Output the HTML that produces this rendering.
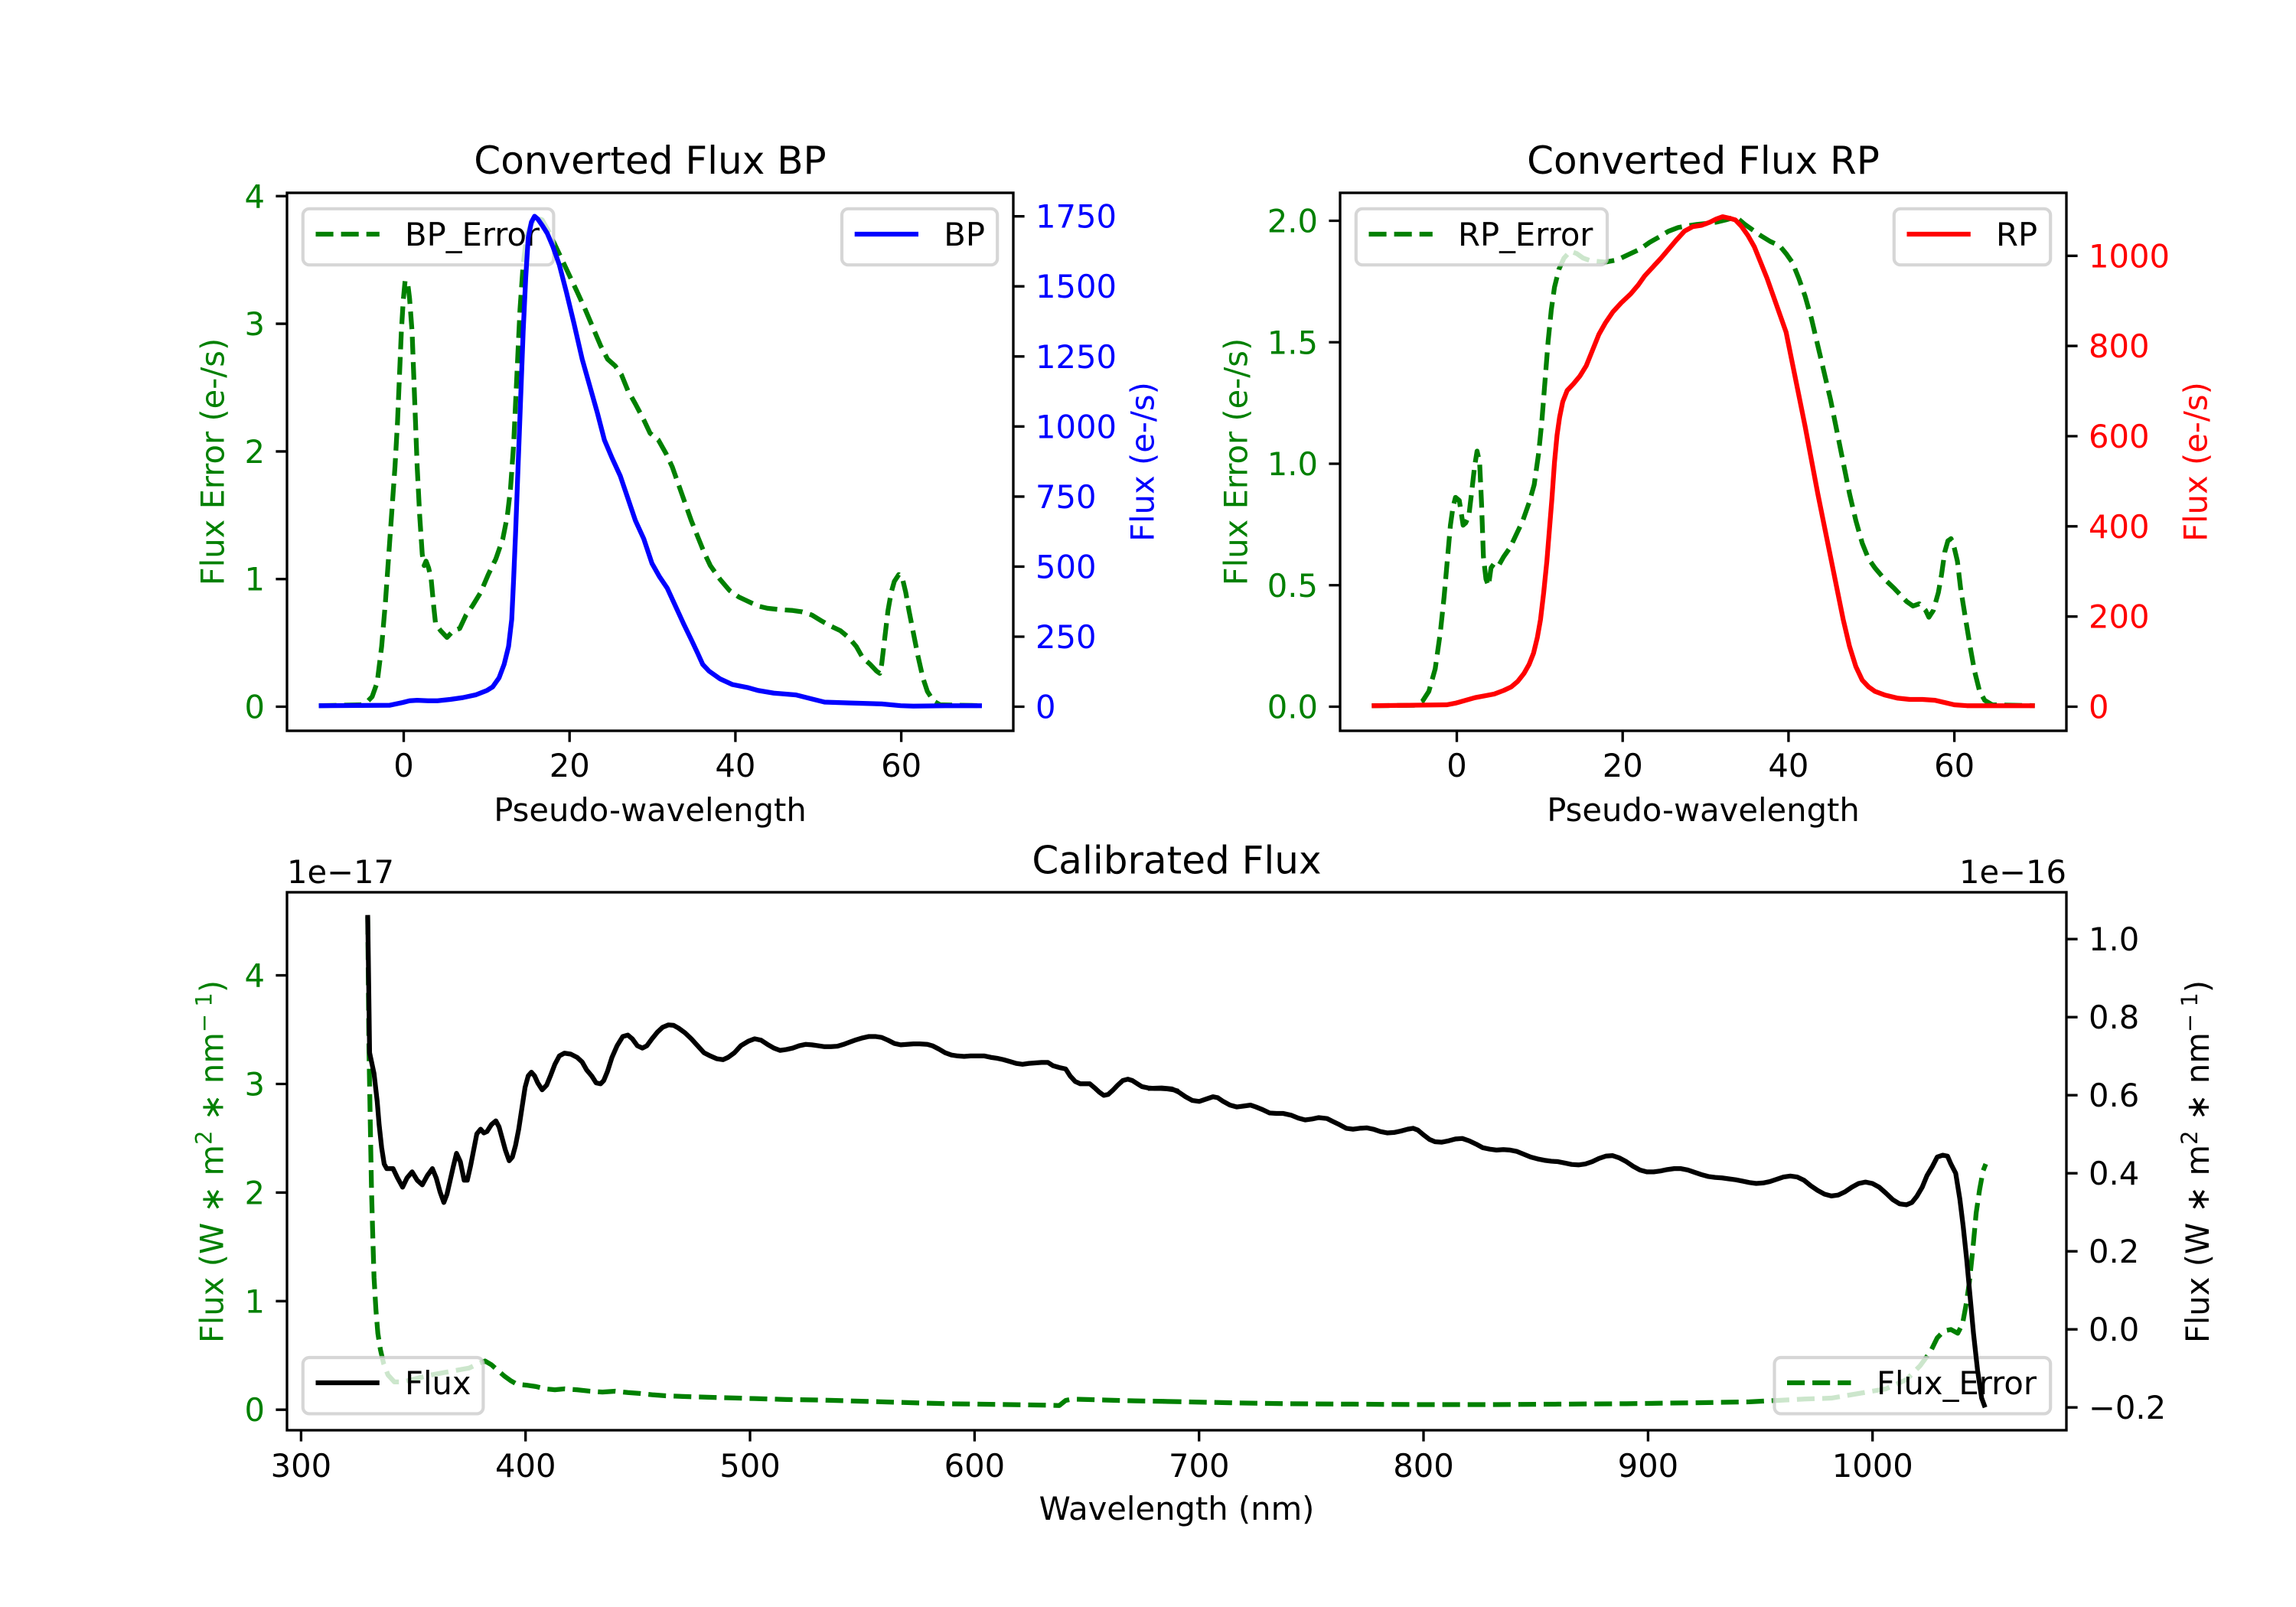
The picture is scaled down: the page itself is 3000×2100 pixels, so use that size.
<!DOCTYPE html>
<html><head><meta charset="utf-8"><style>
html,body{margin:0;padding:0;background:#fff;}
svg{display:block;}
text{font-family:"DejaVu Sans","Liberation Sans",sans-serif;font-size:41.67px;}
.ln{fill:none;stroke-width:6.25;stroke-linejoin:round;}
.ds{stroke-dasharray:23.1 10;}
.sp{fill:none;stroke:#000;stroke-width:3.33;}
.tk{stroke:#000;stroke-width:3.33;fill:none;}
.lg{fill:#fff;fill-opacity:0.8;stroke:#ccc;stroke-opacity:0.8;stroke-width:4.17;}
</style></head><body>
<svg width="3000" height="2100" viewBox="0 0 3000 2100" xmlns="http://www.w3.org/2000/svg">
<rect x="0" y="0" width="3000" height="2100" fill="#fff"/>

<!-- ================= BP PANEL ================= -->
<g transform="translate(240,170) scale(0.82908,0.58673)">
<polyline class="ln ds" vector-effect="non-scaling-stroke" stroke="#008000" points="213,1282 280,1280 290,1272 297,1262 305,1230 312,1150 318,1050 323,950 328,850 333,750 337,650 340,550 343,450 346,380 349,335 353,340 356,375 360,450 364,600 368,750 372,860 376,945 379,970 382,960 386,975 390,1000 394,1060 397,1100 405,1115 415,1130 425,1115 435,1110 445,1080 455,1060 468,1030 480,990 492,955 503,910 510,860 515,800 520,700 525,550 530,400 535,300 540,240 547,210 555,195 565,200 575,225 590,270 605,315 620,360 633,400 645,440 657,480 668,510 680,525 690,545 700,580 712,610 725,645 735,675 748,690 760,720 770,750 780,790 790,830 800,870 810,905 820,940 830,970 845,1000 860,1025 875,1040 890,1050 905,1060 920,1065 940,1068 960,1070 975,1073 990,1080 1005,1093 1020,1105 1035,1115 1048,1130 1060,1150 1070,1175 1082,1190 1092,1205 1097,1210 1100,1190 1105,1130 1110,1070 1115,1030 1120,1005 1127,990 1133,1000 1138,1030 1143,1070 1150,1120 1157,1170 1165,1220 1172,1250 1182,1272 1192,1280 1258,1282"/>
</g>
<!-- BP_Error legend (ax1) -->
<rect class="lg" x="395.8" y="272.8" width="327.6" height="73.4" rx="8.3" ry="8.3"/>
<line x1="412.5" y1="306" x2="495.8" y2="306" stroke="#008000" stroke-width="6.25" stroke-dasharray="23.1 10"/>
<text x="529" y="321">BP_Error</text>

<g transform="translate(240,170) scale(0.82908,0.58673)">
<polyline class="ln" vector-effect="non-scaling-stroke" stroke="#0000ff" points="213,1282 325,1281 335,1278 345,1275 356,1271 368,1270 385,1271 400,1271 420,1268 440,1264 460,1258 478,1248 487,1240 497,1220 505,1190 512,1150 517,1090 520,1000 523,900 527,750 531,600 535,450 539,330 543,240 548,205 553,192 558,198 565,212 573,230 582,260 592,300 603,360 615,430 628,510 640,570 652,630 663,690 675,730 688,770 700,820 712,870 725,910 738,965 750,995 762,1020 775,1060 788,1100 800,1135 810,1165 818,1190 828,1205 845,1222 865,1235 890,1242 905,1248 930,1254 965,1258 990,1267 1010,1274 1050,1276 1100,1278 1130,1282 1150,1283 1200,1282 1258,1282"/>
</g>
<!-- BP legend (ax2) -->
<rect class="lg" x="1100" y="272.8" width="203.2" height="73.4" rx="8.3" ry="8.3"/>
<line x1="1116.7" y1="306" x2="1200" y2="306" stroke="#0000ff" stroke-width="6.25"/>
<text x="1233.3" y="321">BP</text>

<rect class="sp" x="375" y="252" width="949" height="703"/>
<path class="tk" d="M360.4,923.5H375M360.4,756.7H375M360.4,589.9H375M360.4,423.1H375M360.4,256.3H375
M1324,923.5H1338.6M1324,832H1338.6M1324,740.4H1338.6M1324,648.9H1338.6M1324,557.3H1338.6M1324,465.8H1338.6M1324,374.2H1338.6M1324,282.7H1338.6
M527.5,955V969.6M744.2,955V969.6M960.9,955V969.6M1177.6,955V969.6"/>
<g fill="#008000" text-anchor="end">
<text x="346" y="938.5">0</text><text x="346" y="771.7">1</text><text x="346" y="604.9">2</text><text x="346" y="438.1">3</text><text x="346" y="271.3">4</text>
</g>
<g fill="#0000ff" text-anchor="start">
<text x="1353" y="938.5">0</text><text x="1353" y="847">250</text><text x="1353" y="755.4">500</text><text x="1353" y="663.9">750</text><text x="1353" y="572.3">1000</text><text x="1353" y="480.8">1250</text><text x="1353" y="389.2">1500</text><text x="1353" y="297.7">1750</text>
</g>
<g text-anchor="middle">
<text x="527.5" y="1015">0</text><text x="744.2" y="1015">20</text><text x="960.9" y="1015">40</text><text x="1177.6" y="1015">60</text>
<text x="849.5" y="1073">Pseudo-wavelength</text>
<text x="849.5" y="227" style="font-size:50px">Converted Flux BP</text>
</g>
<text transform="translate(292.5,603.5) rotate(-90)" text-anchor="middle" fill="#008000">Flux Error (e-/s)</text>
<text transform="translate(1507.4,603.5) rotate(-90)" text-anchor="middle" fill="#0000ff">Flux (e-/s)</text>

<!-- ================= RP PANEL ================= -->
<g transform="translate(1600,170) scale(0.82908,0.58673)">
<polyline class="ln ds" vector-effect="non-scaling-stroke" stroke="#008000" points="232,1282 300,1281 312,1272 322,1250 332,1200 340,1120 346,1040 351,960 356,880 360,840 364,818 370,825 376,880 380,875 385,860 390,800 394,750 398,715 402,740 405,830 408,950 412,1000 416,1015 420,975 425,965 432,970 440,950 450,930 460,900 470,870 480,830 488,790 495,720 500,650 505,560 510,470 515,400 520,350 527,310 535,285 545,270 555,275 565,285 575,290 585,292 600,294 615,290 625,285 640,275 655,265 670,250 685,238 700,225 715,217 730,213 745,210 760,208 775,205 790,200 800,196 810,198 820,210 830,220 845,235 860,248 875,258 885,275 895,295 905,330 915,370 925,420 935,480 945,540 955,600 965,670 975,740 985,810 995,870 1005,920 1015,955 1025,975 1040,1000 1055,1020 1065,1035 1075,1050 1085,1060 1095,1055 1105,1070 1110,1085 1117,1070 1125,1030 1130,990 1135,940 1140,915 1145,910 1150,930 1155,960 1160,1020 1168,1090 1175,1150 1182,1205 1190,1250 1198,1270 1210,1280 1277,1282"/>
</g>
<rect class="lg" x="1771.8" y="272.8" width="328.2" height="73.4" rx="8.3" ry="8.3"/>
<line x1="1788.5" y1="306" x2="1871.8" y2="306" stroke="#008000" stroke-width="6.25" stroke-dasharray="23.1 10"/>
<text x="1905" y="321">RP_Error</text>

<g transform="translate(1600,170) scale(0.82908,0.58673)">
<polyline class="ln" vector-effect="non-scaling-stroke" stroke="#ff0000" points="232,1282 350,1280 365,1276 380,1270 395,1264 410,1260 425,1256 440,1248 452,1240 462,1228 472,1210 480,1190 487,1165 493,1130 498,1090 503,1030 508,960 512,890 516,820 520,740 524,680 528,640 533,605 540,580 550,565 560,548 570,525 580,490 590,455 600,430 612,405 625,385 640,365 652,345 662,325 675,305 688,285 700,265 712,245 725,225 738,215 752,212 765,205 775,198 785,193 795,196 805,200 815,215 825,235 835,260 845,295 855,330 865,370 875,410 885,450 895,520 905,590 915,660 925,735 935,810 945,880 955,950 965,1020 975,1090 985,1150 995,1195 1005,1225 1015,1240 1025,1250 1040,1258 1060,1265 1080,1268 1100,1268 1120,1270 1135,1275 1150,1280 1170,1282 1277,1282"/>
</g>
<rect class="lg" x="2474.8" y="272.8" width="204.4" height="73.4" rx="8.3" ry="8.3"/>
<line x1="2491.5" y1="306" x2="2574.8" y2="306" stroke="#ff0000" stroke-width="6.25"/>
<text x="2608" y="321">RP</text>

<rect class="sp" x="1751" y="252" width="949" height="703"/>
<path class="tk" d="M1736.4,923.5H1751M1736.4,764.75H1751M1736.4,606H1751M1736.4,447.25H1751M1736.4,288.5H1751
M2700,923.5H2714.6M2700,805.7H2714.6M2700,687.8H2714.6M2700,570H2714.6M2700,452.1H2714.6M2700,334.3H2714.6
M1903.5,955V969.6M2120.2,955V969.6M2336.9,955V969.6M2553.6,955V969.6"/>
<g fill="#008000" text-anchor="end">
<text x="1722" y="938.5">0.0</text><text x="1722" y="779.75">0.5</text><text x="1722" y="621">1.0</text><text x="1722" y="462.25">1.5</text><text x="1722" y="303.5">2.0</text>
</g>
<g fill="#ff0000" text-anchor="start">
<text x="2729" y="938.5">0</text><text x="2729" y="820.7">200</text><text x="2729" y="702.8">400</text><text x="2729" y="585">600</text><text x="2729" y="467.1">800</text><text x="2729" y="349.3">1000</text>
</g>
<g text-anchor="middle">
<text x="1903.5" y="1015">0</text><text x="2120.2" y="1015">20</text><text x="2336.9" y="1015">40</text><text x="2553.6" y="1015">60</text>
<text x="2225.5" y="1073">Pseudo-wavelength</text>
<text x="2225.5" y="227" style="font-size:50px">Converted Flux RP</text>
</g>
<text transform="translate(1629.5,603.5) rotate(-90)" text-anchor="middle" fill="#008000">Flux Error (e-/s)</text>
<text transform="translate(2883.4,603.5) rotate(-90)" text-anchor="middle" fill="#ff0000">Flux (e-/s)</text>

<!-- ================= CALIBRATED PANEL ================= -->
<g transform="translate(240,1100) scale(0.82908,0.60587)">
<polyline class="ln ds" vector-effect="non-scaling-stroke" stroke="#008000" points="290,162 291,300 292,450 294,600 296,750 298,850 300,940 303,1010 306,1060 310,1095 315,1125 322,1150 332,1165 345,1165 360,1160 375,1155 390,1150 410,1145 430,1140 450,1135 465,1125 475,1120 485,1128 495,1140 505,1152 515,1162 525,1170 540,1172 555,1175 570,1180 585,1182 600,1180 620,1182 640,1185 660,1187 680,1185 700,1188 720,1190 740,1193 760,1195 800,1197 850,1199 900,1201 950,1203 1000,1204 1050,1206 1100,1208 1150,1210 1200,1212 1250,1213 1300,1214 1350,1215 1380,1216 1390,1205 1400,1202 1450,1204 1500,1206 1545,1207"/>
</g>
<g transform="translate(1500,1100) scale(0.89286,0.60587)">
<polyline class="ln ds" vector-effect="non-scaling-stroke" stroke="#008000" points="23,1207 120,1210 200,1212 300,1213 400,1214 500,1214 600,1213 700,1212 800,1210 880,1208 920,1205 960,1202 1000,1200 1040,1190 1080,1180 1110,1160 1130,1130 1145,1100 1155,1070 1165,1055 1175,1052 1185,1060 1192,1040 1197,1000 1202,950 1207,880 1212,800 1217,750 1222,710 1226,695"/>
</g>
<!-- Flux_Error legend (ax1) -->
<rect class="lg" x="2318.5" y="1774" width="360.7" height="73.4" rx="8.3" ry="8.3"/>
<line x1="2335" y1="1807" x2="2418.5" y2="1807" stroke="#008000" stroke-width="6.25" stroke-dasharray="23.1 10"/>
<text x="2452" y="1822">Flux_Error</text>

<g transform="translate(240,1100) scale(0.82908,0.60587)">
<polyline class="ln" vector-effect="non-scaling-stroke" stroke="#000" points="290,158 291,250 292,350 293,455 300,500 305,560 308,610 312,660 316,695 320,705 330,705 337,725 345,745 352,725 360,712 368,730 376,740 384,720 392,705 398,725 404,755 410,778 415,760 420,730 425,700 430,672 436,690 442,730 447,730 452,700 457,665 462,630 468,620 473,628 478,625 485,610 492,602 497,615 502,640 507,665 513,688 518,680 523,655 528,620 533,575 538,530 543,505 548,497 553,505 558,520 565,535 572,525 578,505 585,480 592,462 600,456 610,458 620,465 628,475 635,492 643,505 650,520 657,522 662,515 668,495 675,465 683,440 692,420 700,417 707,425 715,440 723,445 730,440 738,425 747,410 755,400 764,395 772,396 780,402 790,412 800,425 810,440 820,455 830,462 840,468 850,470 858,465 868,455 878,440 890,430 900,425 910,428 920,437 930,445 940,450 950,448 960,445 970,440 980,437 990,438 1000,440 1010,442 1020,442 1030,441 1040,437 1050,432 1060,427 1070,423 1080,420 1090,420 1100,422 1110,428 1120,435 1130,438 1140,437 1150,436 1160,436 1172,437 1180,440 1190,447 1200,455 1210,460 1220,462 1230,463 1240,462 1250,462 1262,462 1272,465 1282,467 1292,470 1302,474 1312,478 1322,480 1332,478 1342,477 1352,476 1362,476 1370,483 1380,487 1390,490 1397,505 1405,517 1413,522 1420,522 1428,522 1435,530 1443,540 1450,547 1457,545 1465,535 1472,525 1480,515 1488,512 1495,515 1503,522 1510,528 1520,531 1530,532 1540,532 1550,533 1560,535 1568,538"/>
</g>
<g transform="translate(1500,1100) scale(0.89286,0.60587)">
<polyline class="ln" vector-effect="non-scaling-stroke" stroke="#000" points="0,532 20,531 35,533 45,540 55,550 65,558 75,560 85,555 95,550 102,552 110,560 120,568 130,572 140,570 150,568 158,572 168,578 178,585 188,586 198,586 210,590 220,596 230,600 240,598 250,595 262,597 270,603 280,610 290,618 300,620 310,618 320,617 330,620 340,625 350,628 360,627 370,624 380,620 388,618 395,622 403,632 412,642 420,647 430,648 440,645 450,641 460,640 470,645 480,652 490,660 500,663 510,665 520,664 530,665 540,668 550,674 560,680 570,684 580,687 590,689 600,690 610,693 620,696 630,697 640,695 650,690 660,683 670,678 680,677 690,682 700,690 710,700 720,708 730,712 740,712 750,710 760,707 770,705 780,705 790,708 800,713 810,718 820,722 830,724 840,725 850,727 860,729 870,732 880,735 890,737 900,736 910,733 920,728 930,723 940,721 950,723 960,730 970,742 980,752 990,760 1000,764 1010,762 1020,755 1030,745 1040,737 1050,734 1060,737 1070,745 1080,758 1090,772 1100,781 1110,783 1118,778 1125,765 1133,745 1140,720 1148,700 1155,680 1163,676 1170,678 1175,695 1182,715 1188,770 1193,830 1198,900 1203,980 1208,1060 1214,1140 1220,1200 1225,1220"/>
</g>
<!-- Flux legend (ax2) -->
<rect class="lg" x="395.8" y="1774" width="235.6" height="73.4" rx="8.3" ry="8.3"/>
<line x1="412.5" y1="1807" x2="495.8" y2="1807" stroke="#000" stroke-width="6.25"/>
<text x="529" y="1822">Flux</text>

<rect class="sp" x="375" y="1166" width="2325" height="703"/>
<path class="tk" d="M360.4,1842.2H375M360.4,1700.3H375M360.4,1558.4H375M360.4,1416.5H375M360.4,1274.6H375
M2700,1839.2H2714.6M2700,1737.2H2714.6M2700,1635.2H2714.6M2700,1533.2H2714.6M2700,1431.2H2714.6M2700,1329.2H2714.6M2700,1227.2H2714.6
M393.4,1869V1883.6M686.7,1869V1883.6M980,1869V1883.6M1273.4,1869V1883.6M1566.7,1869V1883.6M1860,1869V1883.6M2153.4,1869V1883.6M2446.7,1869V1883.6"/>
<g fill="#008000" text-anchor="end">
<text x="346" y="1857.2">0</text><text x="346" y="1715.3">1</text><text x="346" y="1573.4">2</text><text x="346" y="1431.5">3</text><text x="346" y="1289.6">4</text>
</g>
<g fill="#000" text-anchor="start">
<text x="2729" y="1854.2">−0.2</text><text x="2729" y="1752.2">0.0</text><text x="2729" y="1650.2">0.2</text><text x="2729" y="1548.2">0.4</text><text x="2729" y="1446.2">0.6</text><text x="2729" y="1344.2">0.8</text><text x="2729" y="1242.2">1.0</text>
</g>
<g text-anchor="middle">
<text x="393.4" y="1930">300</text><text x="686.7" y="1930">400</text><text x="980" y="1930">500</text><text x="1273.4" y="1930">600</text><text x="1566.7" y="1930">700</text><text x="1860" y="1930">800</text><text x="2153.4" y="1930">900</text><text x="2446.7" y="1930">1000</text>
<text x="1537.5" y="1986">Wavelength (nm)</text>
<text x="1537.5" y="1141.5" style="font-size:50px">Calibrated Flux</text>
</g>
<text x="375" y="1154">1e−17</text>
<text x="2700" y="1154" text-anchor="end">1e−16</text>
<text transform="translate(291.7,1518) rotate(-90)" text-anchor="middle" fill="#008000">Flux (W ∗ m<tspan dy="-15" style="font-size:29px">2</tspan><tspan dy="15"> ∗ nm</tspan><tspan dy="-15" style="font-size:29px">− 1</tspan><tspan dy="15">)</tspan></text>
<text transform="translate(2886,1518) rotate(-90)" text-anchor="middle" fill="#000">Flux (W ∗ m<tspan dy="-15" style="font-size:29px">2</tspan><tspan dy="15"> ∗ nm</tspan><tspan dy="-15" style="font-size:29px">− 1</tspan><tspan dy="15">)</tspan></text>
</svg>
</body></html>
